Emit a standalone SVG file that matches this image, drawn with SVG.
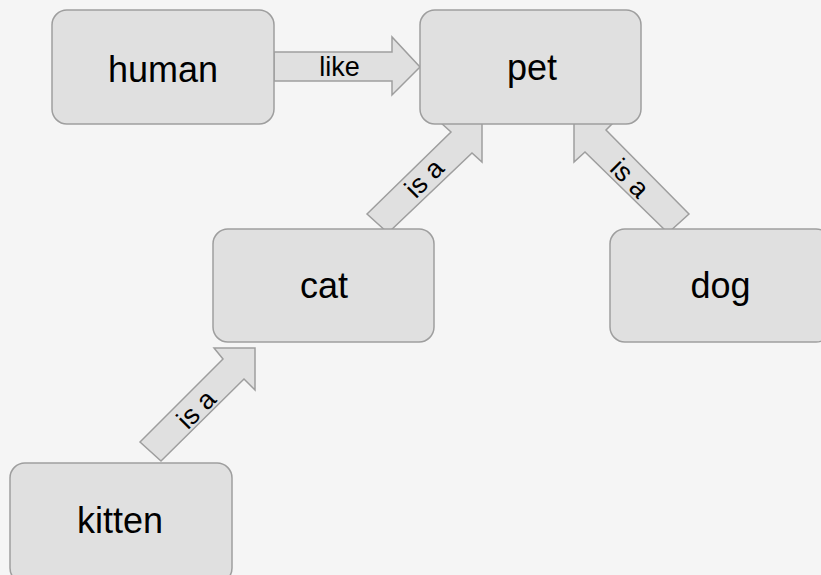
<svg xmlns="http://www.w3.org/2000/svg" width="821" height="575" viewBox="0 0 821 575">
<style>
.node{fill:#e0e0e0;stroke:#9e9e9e;stroke-width:1.5}
.arr{fill:#e0e0e0;stroke:#9e9e9e;stroke-width:1.5;stroke-linejoin:miter}
.t{font-family:"Liberation Sans",Arial,sans-serif;font-size:36px;fill:#000;text-anchor:middle}
.l{font-family:"Liberation Sans",Arial,sans-serif;font-size:27px;fill:#000;text-anchor:middle}
</style>
<rect width="821" height="575" fill="#f5f5f5"/>
<g id="connectors">
<g id="e-like">
<polygon class="arr" points="274,52 392,52 392,37 420,67 392,95 392,81 274,81"/>
<text class="l" x="339.5" y="75.5">like</text>
</g>
<g id="e-cat-pet">
<polygon class="arr" points="367,214 451,132 440,122 482,121 482,162 472,153 388,233"/>
<text class="l" transform="translate(425,179) rotate(-45)" y="8">is a</text>
</g>
<g id="e-dog-pet">
<polygon class="arr" points="689,214 606,130 615,121 574,121 574,162 585,152 668,233"/>
<text class="l" transform="translate(629,179) rotate(45)" y="8">is a</text>
</g>
<g id="e-kitten-cat">
<polygon class="arr" points="140,442 223,359 214,348 255,348 255,390 244,379 161,461"/>
<text class="l" transform="translate(197,410) rotate(-45)" y="8">is a</text>
</g>
</g>
<g id="human"><rect class="node" x="52" y="10" width="222" height="114" rx="15"/><text class="t" x="163" y="82">human</text></g>
<g id="pet"><rect class="node" x="420" y="10" width="221" height="114" rx="15"/><text class="t" x="532" y="80">pet</text></g>
<g id="cat"><rect class="node" x="213" y="229" width="221" height="113" rx="15"/><text class="t" x="324" y="298">cat</text></g>
<g id="dog"><rect class="node" x="610" y="229" width="221" height="113" rx="15"/><text class="t" x="720.5" y="298">dog</text></g>
<g id="kitten"><rect class="node" x="10" y="463" width="222" height="120" rx="15"/><text class="t" x="120" y="533">kitten</text></g>
</svg>
